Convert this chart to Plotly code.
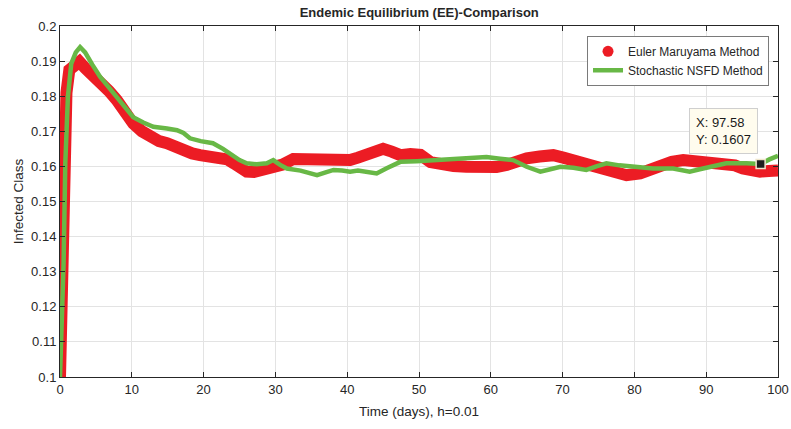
import plotly.graph_objects as go

# ---- data ----
em_t = [0, 0.3, 0.6, 0.9, 1.3, 2.0, 2.7, 3.5, 4.5, 5.6, 6.8, 7.9, 9.0, 10.2, 11.4, 12.6,
        13.8, 14.9, 16.0, 17.2, 18.4, 19.5, 21.0, 22.3, 23.3, 24.2, 25.1, 26.0, 27.0, 27.9,
        28.8, 29.7, 31.0, 32.5, 34.0, 35.8, 37.0, 38.1, 39.3, 40.4, 41.5, 42.7, 43.8, 45.0,
        46.2, 47.4, 48.8, 50.2, 51.6, 53.0, 54.8, 56.6, 58.0, 59.4, 60.8, 62.2, 63.6, 65.0,
        66.8, 68.7, 70.1, 71.5, 73.3, 75.2, 77.0, 78.9, 80.8, 82.2, 83.6, 85.2, 86.8, 88.4,
        90.0, 91.4, 92.8, 94.0, 95.1, 96.3, 97.5, 98.7, 100]
em_v = [0.100, 0.138, 0.166, 0.181, 0.1875, 0.1890, 0.1898, 0.1880, 0.1862, 0.1845, 0.1815,
        0.1789, 0.1755, 0.1722, 0.1700, 0.1684, 0.1672, 0.1666, 0.1655, 0.1646, 0.1637,
        0.1632, 0.1630, 0.1627, 0.1620, 0.1609, 0.1595, 0.1585, 0.1584, 0.1587, 0.1590,
        0.1594, 0.1605, 0.1621, 0.1620, 0.1618, 0.1622, 0.1623, 0.1619, 0.1618, 0.1625,
        0.1632, 0.1643, 0.1650, 0.1642, 0.1632, 0.1635, 0.1633, 0.1612, 0.1604, 0.1601,
        0.1599, 0.1598, 0.1594, 0.1598, 0.1604, 0.1615, 0.1623, 0.1628, 0.1632, 0.1625,
        0.1618, 0.1605, 0.1594, 0.1583, 0.1575, 0.1580, 0.1592, 0.1604, 0.1613, 0.1618,
        0.1616, 0.1613, 0.1611, 0.1609, 0.1603, 0.1594, 0.1588, 0.1585, 0.1587, 0.1588]

nsfd_t = [0, 0.25, 0.5, 0.74, 1.1, 1.57, 2.2, 2.8, 3.5, 4.5, 5.6, 6.8, 7.9, 9.0, 10.2, 11.6,
          13.0, 14.9, 16.3, 17.2, 18.1, 19.6, 21.3, 22.7, 24.1, 25.0, 26.0, 27.4, 28.8, 29.7,
          30.6, 31.6, 33.5, 35.8, 37.0, 38.1, 39.3, 40.4, 41.5, 42.7, 44.1, 45.5, 47.4, 49.7,
          52.0, 54.3, 56.6, 59.4, 61.3, 63.1, 65.0, 66.9, 68.3, 69.7, 71.5, 73.3, 74.7, 76.1,
          77.9, 79.8, 81.2, 82.6, 85.4, 87.7, 89.1, 90.5, 92.8, 95.6, 97.58, 98.8, 100]
nsfd_v = [0.100, 0.118, 0.1324, 0.161, 0.1798, 0.1893, 0.1925, 0.1940, 0.1925, 0.1890, 0.1855,
          0.1825, 0.1798, 0.1768, 0.1740, 0.1725, 0.1713, 0.1708, 0.1703, 0.1695, 0.1680,
          0.1672, 0.1666, 0.1650, 0.1632, 0.1618, 0.1609, 0.1606, 0.1609, 0.1618, 0.1605,
          0.1594, 0.1588, 0.1575, 0.1583, 0.1590, 0.1588, 0.1585, 0.1588, 0.1585, 0.1580,
          0.1595, 0.1613, 0.1615, 0.1618, 0.1620, 0.1623, 0.1627, 0.1622, 0.1618, 0.1599,
          0.1585, 0.1592, 0.1599, 0.1596, 0.1590, 0.1600, 0.1609, 0.1603, 0.1599, 0.1596,
          0.1594, 0.1594, 0.1585, 0.1592, 0.1599, 0.1609, 0.1609, 0.1607, 0.1620, 0.1630]

tip_x = [97.58]
tip_y = [0.1607]

x_ticks = [0, 10, 20, 30, 40, 50, 60, 70, 80, 90, 100]
y_ticks = [0.1, 0.11, 0.12, 0.13, 0.14, 0.15, 0.16, 0.17, 0.18, 0.19, 0.2]
y_tick_text = ["0.1", "0.11", "0.12", "0.13", "0.14", "0.15", "0.16", "0.17", "0.18", "0.19", "0.2"]

RED = "#ec1c24"
GREEN = "#68b846"
FONT = "Liberation Sans, Arial, sans-serif"
INK = "#262626"

fig = go.Figure()

# legend proxy for the marker-style series
fig.add_trace(go.Scatter(x=[None], y=[None], mode="markers", name="Euler Maruyama Method",
                         marker=dict(color=RED, size=11, symbol="circle")))
fig.add_trace(go.Scatter(x=em_t, y=em_v, mode="lines", showlegend=False,
                         line=dict(color=RED, width=12), hoverinfo="skip"))
fig.add_trace(go.Scatter(x=nsfd_t, y=nsfd_v, mode="lines", name="Stochastic NSFD Method",
                         line=dict(color=GREEN, width=4.5)))
fig.add_trace(go.Scatter(x=tip_x, y=tip_y, mode="markers", showlegend=False,
                         marker=dict(color="#1e1e1e", size=9, symbol="square",
                                     line=dict(color="#efe6cc", width=1.5))))

fig.add_annotation(x=87.6, y=0.1766, xref="x", yref="y", xanchor="left", yanchor="top",
                   text="X: 97.58<br>Y: 0.1607", showarrow=False, align="left",
                   font=dict(family=FONT, size=13, color="#1a1a1a"),
                   bgcolor="#fffcee", bordercolor="#cfcfcf", borderwidth=1, borderpad=6)

axis_common = dict(showline=True, linecolor=INK, linewidth=1, mirror="ticks",
                   ticks="inside", ticklen=5, tickcolor=INK, showgrid=True,
                   gridcolor="#e3e3e3", gridwidth=1, zeroline=False, automargin=False,
                   tickfont=dict(family=FONT, size=13, color=INK))

fig.update_xaxes(range=[0, 100], tickvals=x_ticks,
                 title=dict(text="Time (days), h=0.01", font=dict(family=FONT, size=13.5, color=INK),
                            standoff=10),
                 **axis_common)
fig.update_yaxes(range=[0.1, 0.2], tickvals=y_ticks, ticktext=y_tick_text,
                 title=dict(text="Infected Class", font=dict(family=FONT, size=13.5, color=INK),
                            standoff=4),
                 **axis_common)

fig.update_layout(
    width=791, height=429,
    margin=dict(l=60, r=13, t=26, b=52),
    paper_bgcolor="white", plot_bgcolor="white",
    title=dict(text="<b>Endemic Equilibrium (EE)-Comparison</b>", x=0.53, xanchor="center",
               y=0.97, yanchor="middle", font=dict(family=FONT, size=13, color=INK)),
    legend=dict(x=0.734, y=0.972, xanchor="left", yanchor="top",
                bgcolor="white", bordercolor="#7a7a7a", borderwidth=1,
                font=dict(family=FONT, size=12, color=INK), tracegroupgap=0,
                itemwidth=30),
    showlegend=True,
)

fig.write_html("out.html", config={"displayModeBar": False},
               post_script="document.body.style.margin='0';document.body.style.overflow='hidden';")
